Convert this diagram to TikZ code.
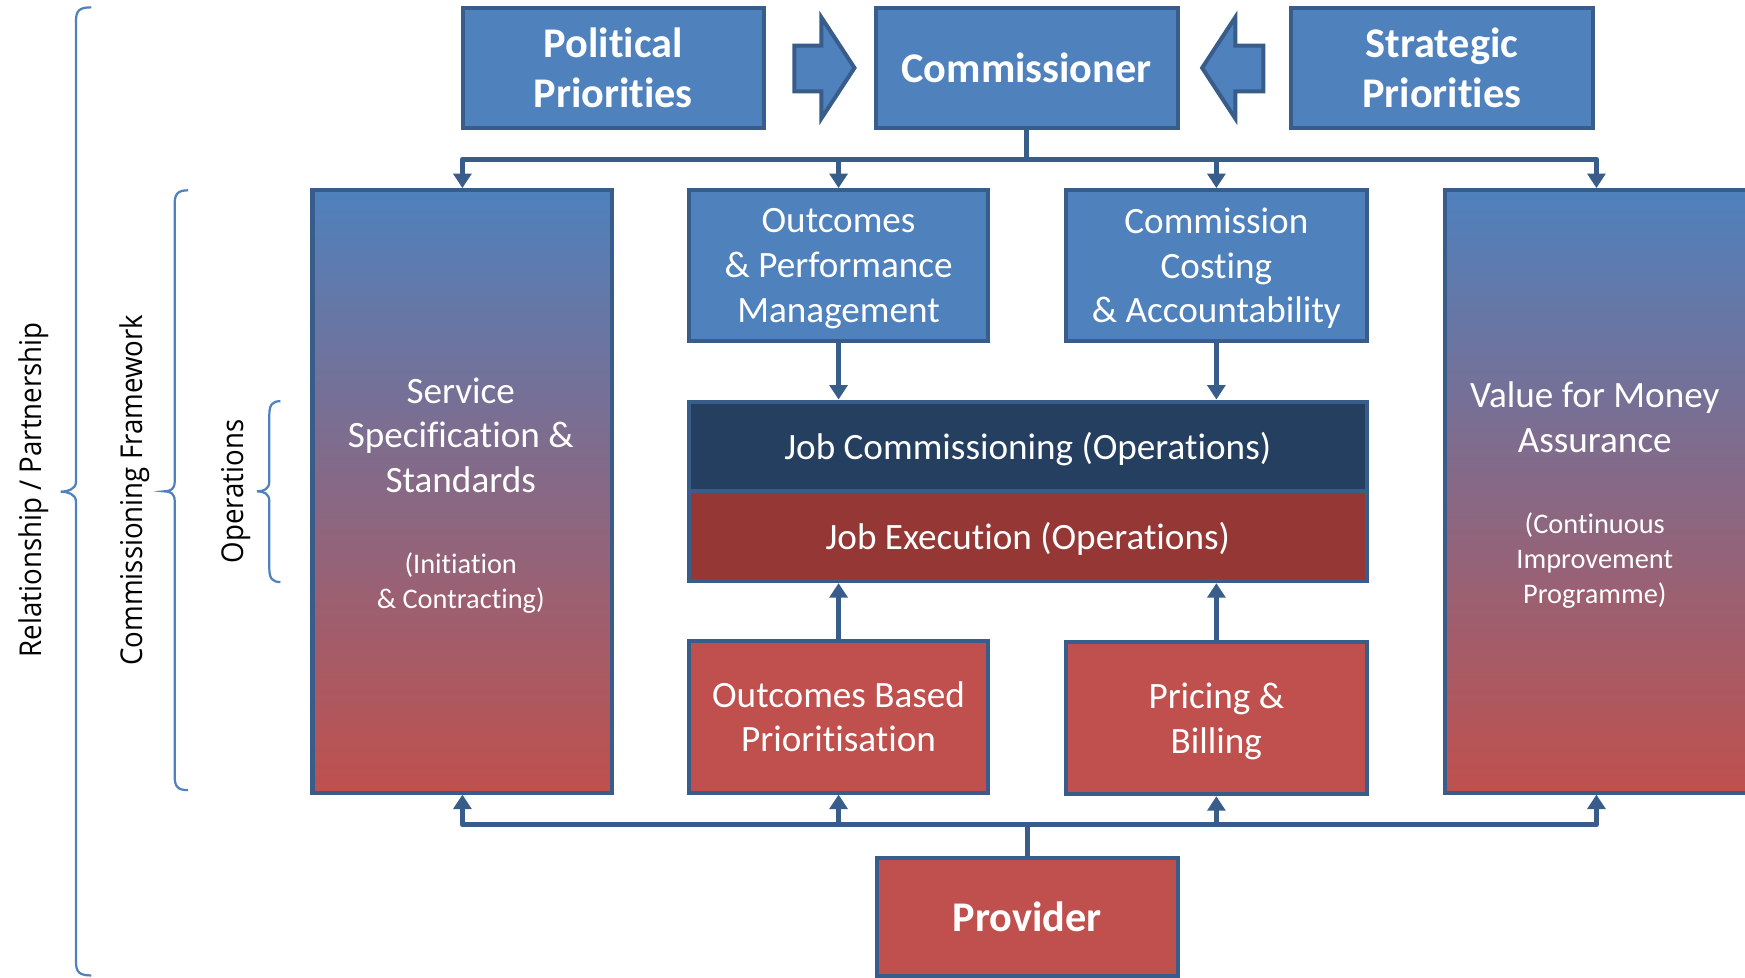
\documentclass[tikz,border=0pt]{standalone}
\usepackage{fontspec}
\setmainfont{Carlito}[Ligatures={NoCommon,NoContextual}]
\newfontfamily\sidefont{Open Sans}
\usetikzlibrary{arrows.meta,calc}
\definecolor{bfill}{HTML}{4F81BD}
\definecolor{bline}{HTML}{385D8A}
\definecolor{rfill}{HTML}{C0504D}
\definecolor{navy}{HTML}{243F60}
\definecolor{dred}{HTML}{953735}
\definecolor{bracec}{HTML}{4F81BD}
\newcommand{\drawbrace}[6]{% #1 line x, #2 end x, #3 tip x, #4 top y, #5 mid y, #6 bottom y
  \draw[bracestyle] (#2,#4) .. controls (#1+3,#4) and (#1,#4+3) .. (#1,#4+12)
    -- (#1,#5-9) .. controls (#1,#5-2) and (#3+6,#5) .. (#3,#5)
    .. controls (#3+6,#5) and (#1,#5+2) .. (#1,#5+9)
    -- (#1,#6-12) .. controls (#1,#6-3) and (#1+3,#6) .. (#2,#6);}
\tikzset{
  box/.style={draw=bline, line width=3.6pt, text=white, align=center, inner sep=0pt, text depth=0pt},
  bluebox/.style={box, fill=bfill},
  redbox/.style={box, fill=rfill},
  navybox/.style={box, fill=navy},
  dredbox/.style={box, fill=dred},
  gradbox/.style={box, top color=bfill, bottom color=rfill},
  bigt/.style={font=\fontsize{38}{45}\selectfont\bfseries},
  midt/.style={font=\fontsize{33.4}{40}\selectfont},
  smallt/.style={font=\fontsize{25.5}{31.5}\selectfont},
  lbl/.style={text=white, align=center, inner sep=0pt},
  conn/.style={draw=bline, line width=4.5pt, line join=round},
  arr/.style={conn, -{Triangle[length=13pt,width=16pt]}},
  bracestyle/.style={draw=bracec, line width=2pt},
  sidet/.style={rotate=90, anchor=base, inner sep=0pt, font=\sidefont\fontsize{27}{32}\selectfont},
  blockarrow/.style={draw=bline, fill=bfill, line width=3.6pt, line join=miter}
}
\begin{document}
\begin{tikzpicture}[x=1pt,y=-1pt]
\clip (0,0) rectangle (1568,878);
\fill[white] (0,0) rectangle (1568,878);

% braces
\drawbrace{68.3}{82}{54.5}{6.6}{441.8}{876.5}
\drawbrace{157}{169}{147.4}{171}{441.5}{710}
\drawbrace{242}{252}{231}{360.5}{441.5}{523}

% side labels
\node[sidet] (rel) at (37.5,440) {\scalebox{0.92}[1]{Relationship / Partnership}};
\node[sidet] (cfw) at (128,440.5) {\scalebox{0.92}[1]{Commissioning Framework}};
\node[sidet] (ops) at (218.5,441.5) {\scalebox{0.92}[1]{Operations}};

% top row
\node[bluebox, bigt, minimum width=270.4pt, minimum height=108pt] (pol) at (551,61.2) {Political\\Priorities};
\node[bluebox, bigt, minimum width=271.4pt, minimum height=108pt] (comm) at (922.5,61.2) {Commissioner};
\node[bluebox, bigt, minimum width=271.4pt, minimum height=108pt] (strat) at (1295.5,61.2) {Strategic\\Priorities};

% block arrows
\draw[blockarrow] (713.8,41) -- (738,41) -- (738,15.5) -- (767.8,61) -- (738,106.5) -- (738,82) -- (713.8,82) -- cycle;
\draw[blockarrow] (1135.2,41) -- (1110,41) -- (1110,15.5) -- (1080.2,61) -- (1110,106.5) -- (1110,82) -- (1135.2,82) -- cycle;

% second row
\node[gradbox, minimum width=269.4pt, minimum height=541.4pt] (svc) at (415.5,441.5) {};
\node[bluebox, midt, minimum width=269.4pt, minimum height=135.4pt] (opm) at (753.5,238.5) {Outcomes\\\& Performance\\Management};
\node[bluebox, midt, minimum width=270.4pt, minimum height=135.4pt] (ccost) at (1093,238.5) {Commission\\Costing\\\& Accountability};
\node[gradbox, minimum width=271.4pt, minimum height=541.4pt] (vfm) at (1434.5,441.5) {};

\node[lbl, midt] (svct) at (414,391) {Service\\Specification \&\\Standards};
\node[lbl, smallt] (svcs) at (414,524) {(Initiation\\\& Contracting)};
\node[lbl, midt] (vfmt) at (1433,375) {Value for Money\\Assurance};
\node[lbl, smallt] (vfms) at (1433,503.5) {(Continuous\\Improvement\\Programme)};

% job boxes
\node[navybox, midt, minimum width=609.4pt, minimum height=80.4pt] (jobc) at (923.5,401) {Job Commissioning (Operations)};
\node[dredbox, midt, minimum width=609.4pt, minimum height=81.4pt] (jobe) at (923.5,481.5) {Job Execution (Operations)};

% lower row
\node[redbox, midt, minimum width=269.4pt, minimum height=136.4pt] (obp) at (753.5,644) {Outcomes Based\\Prioritisation};
\node[redbox, midt, minimum width=270.4pt, minimum height=136.4pt] (pb) at (1093,645.5) {Pricing \&\\Billing};
\node[redbox, bigt, minimum width=270.4pt, minimum height=106.4pt] (prov) at (923,824) {Provider};

% connectors top
\coordinate (topbus) at (922.5,143);
\draw[conn] (comm.south) -- (topbus);
\draw[arr] (topbus) -| (svc.north);
\draw[arr] (topbus) -| (opm.north);
\draw[arr] (topbus) -| (ccost.north);
\draw[arr] (topbus) -| (vfm.north);

% middle arrows
\draw[arr] (opm.south) -- (opm.south |- jobc.north);
\draw[arr] (ccost.south) -- (ccost.south |- jobc.north);
\draw[arr] (obp.north) -- (obp.north |- jobe.south);
\draw[arr] (pb.north) -- (pb.north |- jobe.south);

% connectors bottom
\coordinate (botbus) at (923,741);
\draw[conn] (prov.north) -- (botbus);
\draw[arr] (botbus) -| (svc.south);
\draw[arr] (botbus) -| (obp.south);
\draw[arr] (botbus) -| (pb.south);
\draw[arr] (botbus) -| (vfm.south);
\end{tikzpicture}
\end{document}
